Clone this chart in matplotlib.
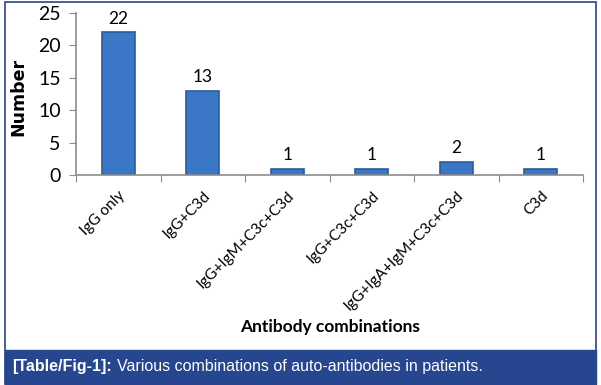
import matplotlib
matplotlib.use("Agg")
import matplotlib.pyplot as plt
from matplotlib.patches import Rectangle

categories = ["IgG only", "IgG+C3d", "IgG+IgM+C3c+C3d", "IgG+C3c+C3d",
              "IgG+IgA+IgM+C3c+C3d", "C3d"]
counts = [22, 13, 1, 1, 2, 1]
y_ticks = [0, 5, 10, 15, 20, 25]

navy = "#26468f"
bar_face = "#3a78c7"
bar_edge = "#2a5c9f"
axis_grey = "#8c8c8c"
font = "Lato"

fig = plt.figure(figsize=(6.01, 3.85), dpi=100)
ax = fig.add_axes([76 / 601, 1 - 175 / 385, (583 - 76) / 601, (175 - 13) / 385])

x = list(range(len(categories)))
ax.bar(x, counts, width=0.39, color=bar_face, edgecolor=bar_edge, linewidth=1.2)
for xi, c in zip(x, counts):
    ax.text(xi, c + 0.9, str(c), ha="center", va="bottom", fontsize=12.5,
            family=font)

ax.set_xlim(-0.5, len(categories) - 0.5)
ax.set_ylim(0, 25)
ax.set_yticks(y_ticks)
ax.set_yticklabels([str(t) for t in y_ticks], fontsize=14, family=font)

# category ticks on the boundaries, labels at centers
ax.set_xticks([i - 0.5 for i in range(len(categories) + 1)])
ax.set_xticklabels([])
ax.set_xticks(x, minor=True)
ax.set_xticklabels(categories, minor=True, rotation=45, ha="right",
                   rotation_mode="anchor", fontsize=11, family=font)
ax.tick_params(axis="x", which="minor", length=0, pad=10)
ax.tick_params(axis="x", which="major", length=5, color=axis_grey)
ax.tick_params(axis="y", length=5, color=axis_grey, pad=6)

for side in ["top", "right"]:
    ax.spines[side].set_visible(False)
for side in ["left", "bottom"]:
    ax.spines[side].set_color(axis_grey)
    ax.spines[side].set_linewidth(1.2)

fig.text(330 / 601, 1 - 327 / 385, "Antibody combinations", ha="center",
         va="center", fontsize=12.5, fontweight="bold", family=font)
fig.text(18 / 601, 1 - 97 / 385, "Number", ha="center", va="center",
         rotation=90, fontsize=12.5, fontweight="heavy", family="DejaVu Sans")

# outer frame and caption band
fig.patches.append(Rectangle((5 / 601, 1 - 384 / 385), 591 / 601, 382 / 385,
                             transform=fig.transFigure, fill=False,
                             edgecolor=navy, linewidth=1.2))
fig.patches.append(Rectangle((5 / 601, 1 - 384 / 385), 591 / 601, 34 / 385,
                             transform=fig.transFigure, facecolor=navy,
                             edgecolor=navy))
tag = fig.text(12 / 601, 1 - 367 / 385, "[Table/Fig-1]:", ha="left",
               va="center", fontsize=11.5, fontweight="bold", color="white",
               family="Liberation Sans")
fig.canvas.draw()
bb = tag.get_window_extent()
fig.text((bb.x1 + 5) / 601, 1 - 367 / 385,
         "Various combinations of auto-antibodies in patients.", ha="left",
         va="center", fontsize=11.5, color="white", family="Liberation Sans")

fig.savefig("out.png", dpi=100)
